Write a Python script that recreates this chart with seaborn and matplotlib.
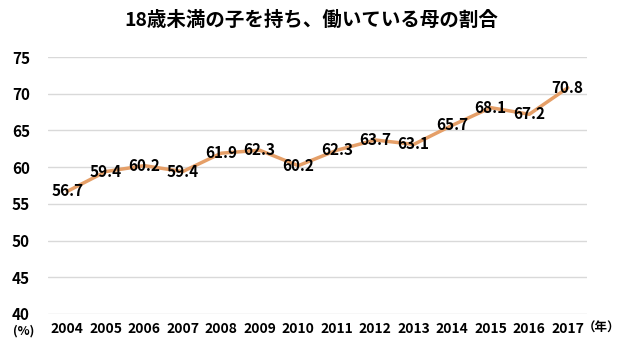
import pandas as pd
import matplotlib.pyplot as plt
import seaborn as sns

years = ['2004', '2005', '2006', '2007', '2008', '2009', '2010',
         '2011', '2012', '2013', '2014', '2015', '2016', '2017']
rates = [56.7, 59.4, 60.2, 59.4, 61.9, 62.3, 60.2,
         62.3, 63.7, 63.1, 65.7, 68.1, 67.2, 70.8]
yticks = [40, 45, 50, 55, 60, 65, 70, 75]

df = pd.DataFrame({'year': years, 'rate': rates})

sns.set_style('white')
plt.rcParams['font.family'] = ['Noto Sans CJK JP', 'DejaVu Sans']

fig = plt.figure(figsize=(6.21, 3.51), dpi=100)
ax = fig.add_axes([48 / 621, 1 - 314 / 351, (587 - 48) / 621, (314 - 57) / 351])

sns.lineplot(data=df, x='year', y='rate', ax=ax, color='#E59F68', linewidth=2.5,
             sort=False, zorder=2)

for i, v in enumerate(rates):
    ax.text(i, v, f'{v:.1f}', ha='center', va='center', fontsize=11,
            fontweight='bold', color='black', zorder=3)

ax.set_xlim(-0.5, len(years) - 0.5)
ax.set_ylim(40, 75)
ax.set_yticks(yticks)
ax.yaxis.grid(True, color='#D9D9D9', linewidth=1)
ax.set_axisbelow(True)
for s in ax.spines.values():
    s.set_visible(False)
ax.tick_params(axis='both', length=0, labelsize=10, labelcolor='black', pad=6)
for lab in ax.get_xticklabels() + ax.get_yticklabels():
    lab.set_fontweight('bold')
ax.tick_params(axis='y', pad=13, labelsize=11)
ax.set_xlabel('')
ax.set_ylabel('')

fig.text(311 / 621, 1 - 20 / 351, '18歳未満の子を持ち、働いている母の割合',
         ha='center', va='center', fontsize=14, fontweight='bold', color='black')
fig.text(24 / 621, 1 - 331 / 351, '(%)', ha='center', va='center',
         fontsize=9, fontweight='bold', color='black')
fig.text(620 / 621, 1 - 328 / 351, '（年）', ha='right', va='center',
         fontsize=9, fontweight='bold', color='black')

fig.savefig('out.png', dpi=100, facecolor='white')
